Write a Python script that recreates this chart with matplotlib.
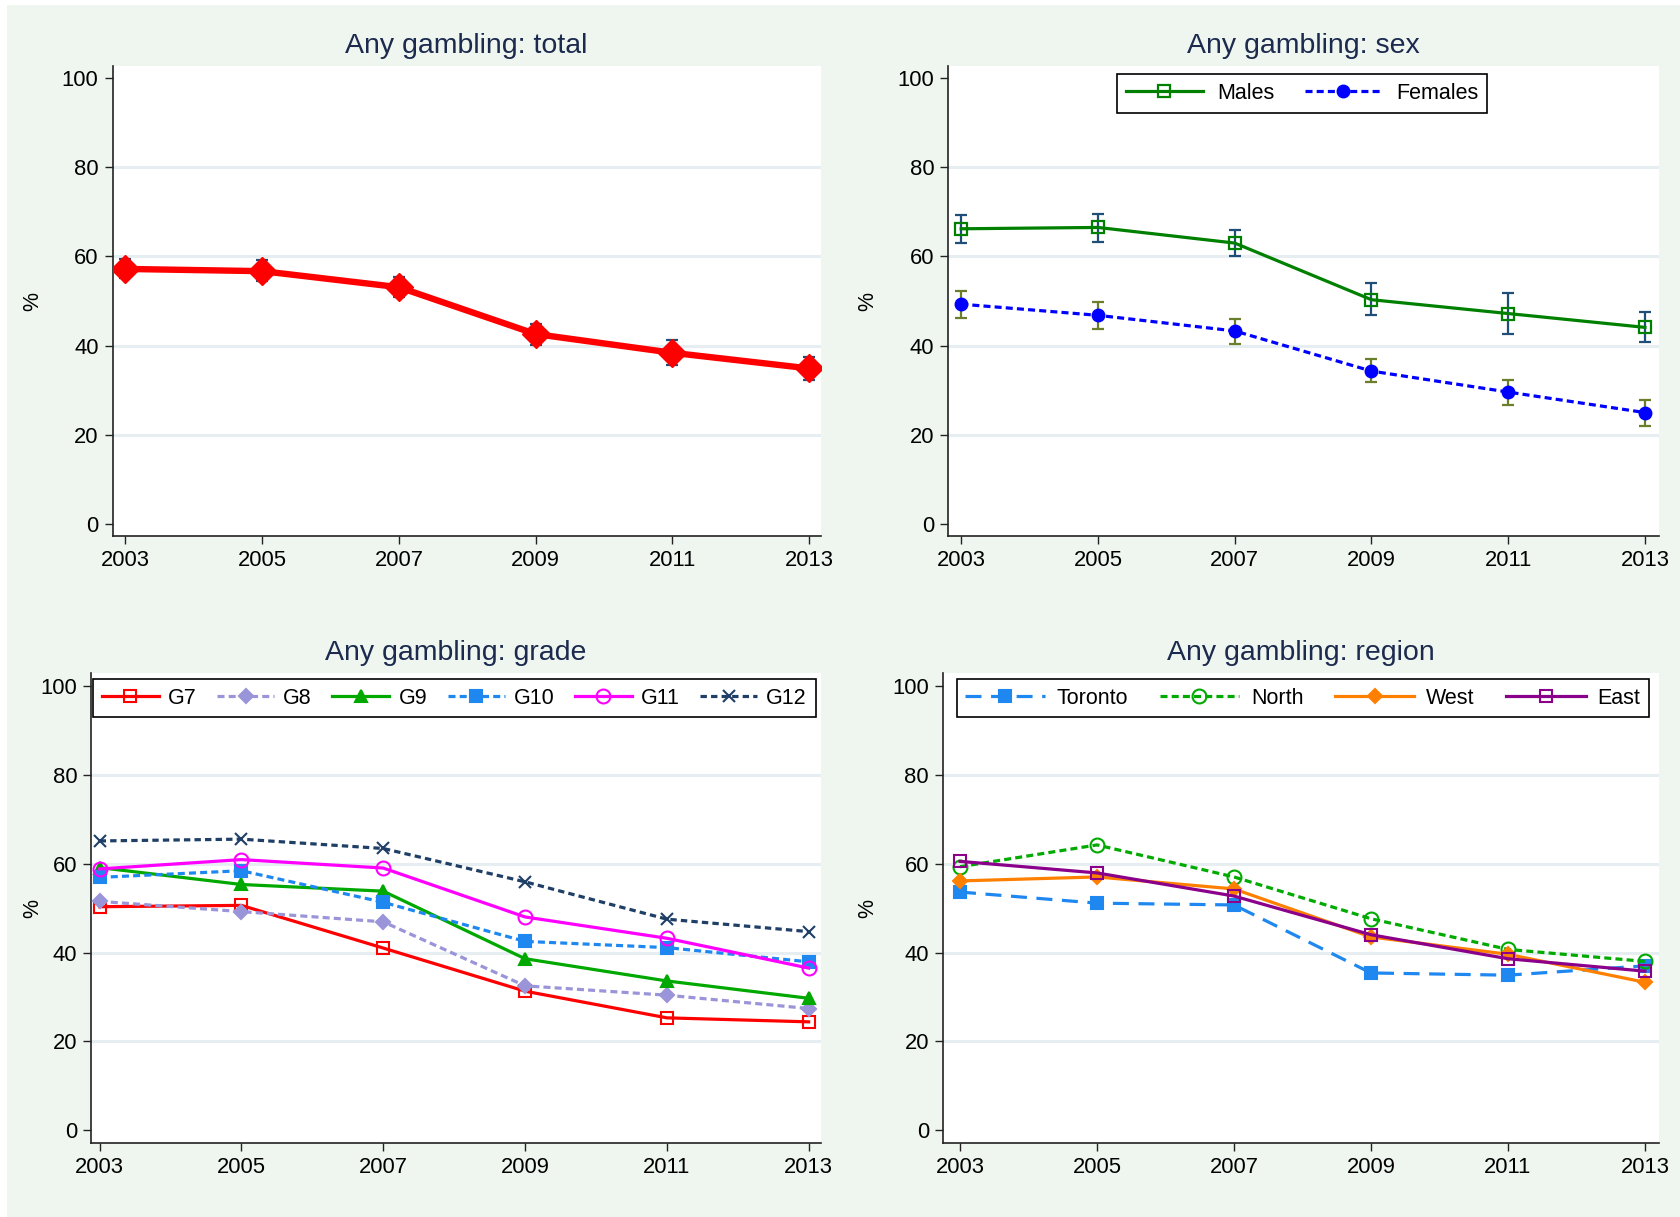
import matplotlib
matplotlib.use("Agg")
import matplotlib.pyplot as plt
import numpy as np

plt.rcParams['font.family'] = ['Liberation Sans', 'DejaVu Sans']

years = [2003, 2005, 2007, 2009, 2011, 2013]

# Total
total = [57.2, 56.7, 53.1, 42.6, 38.4, 34.9]
total_lo = [55.1, 54.6, 50.8, 40.2, 35.6, 32.4]
total_hi = [59.4, 59.1, 55.4, 44.9, 41.3, 37.4]

# Sex
males = [66.2, 66.5, 63.0, 50.3, 47.2, 44.1]
males_lo = [63.1, 63.3, 60.0, 46.9, 42.7, 40.8]
males_hi = [69.2, 69.6, 65.9, 54.1, 51.8, 47.5]
females = [49.3, 46.8, 43.3, 34.3, 29.6, 25.0]
females_lo = [46.3, 43.8, 40.3, 31.8, 26.8, 21.9]
females_hi = [52.3, 49.8, 45.9, 37.0, 32.4, 27.9]

# Grade
g7 = [50.3, 50.6, 41.0, 31.3, 25.3, 24.4]
g8 = [51.5, 49.2, 46.9, 32.5, 30.4, 27.4]
g9 = [59.1, 55.3, 53.8, 38.6, 33.6, 29.7]
g10 = [56.9, 58.4, 51.3, 42.5, 41.1, 37.9]
g11 = [58.8, 60.9, 59.0, 48.0, 43.2, 36.5]
g12 = [65.1, 65.5, 63.4, 55.9, 47.5, 44.7]
grade_labels = ["G7", "G8", "G9", "G10", "G11", "G12"]

# Region
toronto = [53.6, 51.1, 50.7, 35.4, 34.9, 37.0]
north = [59.3, 64.2, 57.0, 47.6, 40.7, 38.0]
west = [56.1, 57.0, 54.3, 43.5, 39.6, 33.3]
east = [60.5, 57.9, 52.7, 44.0, 38.6, 35.8]
region_labels = ["Toronto", "North", "West", "East"]

titles = ["Any gambling: total", "Any gambling: sex",
          "Any gambling: grade", "Any gambling: region"]
yticks = [0, 20, 40, 60, 80, 100]

BG = "#EFF6F0"
TITLE_C = "#1C2A4E"
GRID_C = "#E7EEF2"
ERR_NAVY = "#1F4E79"
ERR_OLIVE = "#6B7F2A"

fig = plt.figure(figsize=(16.8, 12.17), dpi=100)
fig.patch.set_facecolor(BG)
# thin white strips along top and left edges
fig.add_artist(plt.Rectangle((0, 1 - 5 / 1217), 1, 5 / 1217, transform=fig.transFigure,
                             facecolor="white", edgecolor="none", zorder=0))
fig.add_artist(plt.Rectangle((0, 0), 7 / 1680, 1, transform=fig.transFigure,
                             facecolor="white", edgecolor="none", zorder=0))

W, H = 1680, 1217
def px_axes(l, r, t, b):
    return fig.add_axes([l / W, 1 - b / H, (r - l) / W, (b - t) / H])

ax1 = px_axes(112.5, 820.7, 66.4, 535.7)
ax2 = px_axes(948.2, 1658.6, 66.4, 535.7)
ax3 = px_axes(91.1, 820.7, 672.9, 1143.2)
ax4 = px_axes(942.9, 1658.6, 672.9, 1143.2)

xlims = [(2002.81, 2013.17), (2002.81, 2013.2), (2002.88, 2013.17), (2002.75, 2013.2)]
ylims = [(-2.6, 102.6), (-2.6, 102.6), (-2.9, 102.9), (-2.9, 102.9)]
ylab_x = [-0.098, -0.098, -0.066, -0.09]

for ax, ttl, xl, yl, lx in zip([ax1, ax2, ax3, ax4], titles, xlims, ylims, ylab_x):
    ax.set_facecolor("white")
    ax.set_xlim(*xl)
    ax.set_ylim(*yl)
    for s in ["top", "right"]:
        ax.spines[s].set_visible(False)
    for s in ["left", "bottom"]:
        ax.spines[s].set_color("#222222")
        ax.spines[s].set_linewidth(1.2)
    ax.set_yticks(yticks)
    ax.set_xticks(years)
    ax.tick_params(axis="both", direction="out", length=6, width=1.0,
                   color="#222222", labelsize=15.8, labelcolor="black", pad=4)
    for g in [20, 40, 60, 80]:
        ax.axhline(g, color=GRID_C, lw=2.2, zorder=0.5)
    ax.set_ylabel("%", fontsize=15.5, color="black")
    ax.yaxis.set_label_coords(lx, 0.5)
    ax.text(0.5, 1.043, ttl, transform=ax.transAxes, ha="center", va="center",
            fontsize=20.5, color=TITLE_C)


def boxed_legend(ax, cx, top, ncol, hl, htp, cs):
    leg = ax.legend(loc="upper center", bbox_to_anchor=(cx, top), ncol=ncol,
                    fontsize=15.5, frameon=True, fancybox=False, edgecolor="black",
                    framealpha=1, handlelength=hl, handletextpad=htp,
                    columnspacing=cs, borderaxespad=0, borderpad=0.4)
    leg.get_frame().set_linewidth(1.2)
    return leg


# Total panel
ax1.errorbar(years, total,
             yerr=[np.array(total) - np.array(total_lo), np.array(total_hi) - np.array(total)],
             fmt="none", ecolor=ERR_NAVY, elinewidth=1.6, capsize=4, capthick=1.6, zorder=2)
ax1.plot(years, total, color="#FF0000", lw=4.6, marker="D", ms=14, zorder=3)

# Sex panel
ax2.errorbar(years, males,
             yerr=[np.array(males) - np.array(males_lo), np.array(males_hi) - np.array(males)],
             fmt="none", ecolor=ERR_NAVY, elinewidth=1.6, capsize=4, capthick=1.6, zorder=2)
ax2.errorbar(years, females,
             yerr=[np.array(females) - np.array(females_lo), np.array(females_hi) - np.array(females)],
             fmt="none", ecolor=ERR_OLIVE, elinewidth=1.6, capsize=4, capthick=1.6, zorder=2)
ax2.plot(years, males, color="#008000", lw=2.3, marker="s", ms=9, mfc="none",
         mew=1.6, label="Males", zorder=3)
ax2.plot(years, females, color="#0000FF", lw=2.3, ls=(0, (2.2, 1.3)), marker="o", ms=9,
         label="Females", zorder=3)
boxed_legend(ax2, 0.498, 0.983, 2, 3.6, 0.65, 1.4)

# Grade panel
grade_series = [g7, g8, g9, g10, g11, g12]
grade_styles = [
    dict(color="#FF0000", ls="-", marker="s", mfc="none", ms=8),
    dict(color="#9A94D8", ls=(0, (2.2, 1.3)), marker="D", ms=7),
    dict(color="#00A800", ls="-", marker="^", ms=8),
    dict(color="#1E88F0", ls=(0, (2.2, 1.3)), marker="s", ms=8),
    dict(color="#FF00FF", ls="-", marker="o", mfc="none", ms=10),
    dict(color="#1F3F66", ls=(0, (2.0, 1.3)), marker="x", ms=9),
]
for vals, lab, st in zip(grade_series, grade_labels, grade_styles):
    ax3.plot(years, vals, lw=2.3, mew=1.5, label=lab, zorder=3, **st)
boxed_legend(ax3, 0.498, 0.987, 6, 2.65, 0.42, 0.95)

# Region panel
region_series = [toronto, north, west, east]
region_styles = [
    dict(color="#1E88F0", ls=(0, (5, 3)), marker="s", ms=8),
    dict(color="#00AA00", ls=(0, (2.2, 1.3)), marker="o", mfc="none", ms=10),
    dict(color="#FF8000", ls="-", marker="D", ms=7),
    dict(color="#8B008B", ls="-", marker="s", mfc="none", ms=8),
]
for vals, lab, st in zip(region_series, region_labels, region_styles):
    ax4.plot(years, vals, lw=2.3, mew=1.5, label=lab, zorder=3, **st)
boxed_legend(ax4, 0.503, 0.987, 4, 3.7, 0.55, 1.45)

fig.savefig("out.png", dpi=100, facecolor=BG)
